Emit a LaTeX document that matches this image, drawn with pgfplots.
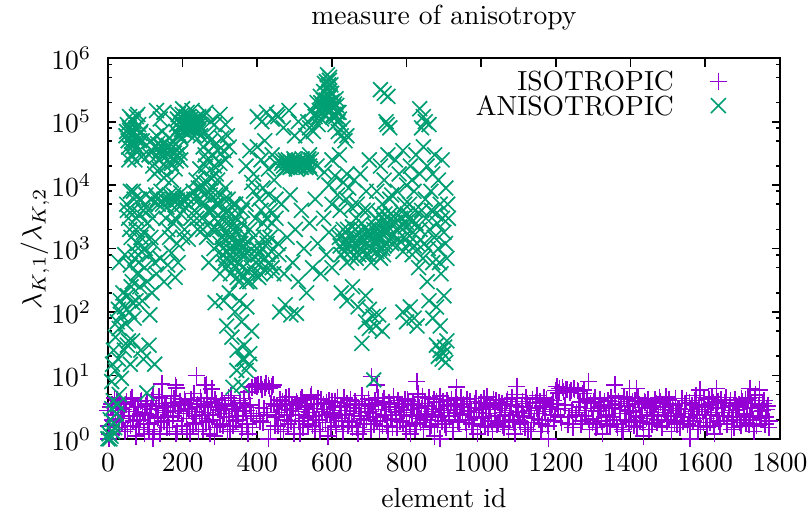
\documentclass[border=0pt]{standalone}
\usepackage{pgfplots}
\pgfplotsset{compat=1.18}
\definecolor{isoc}{RGB}{148,0,211}
\definecolor{anic}{RGB}{0,158,115}
\begin{document}
\begin{tikzpicture}
\begin{axis}[
 at={(0,0)}, anchor=south west,
 scale only axis, width=243.3pt, height=137.8pt,
 xmin=0, xmax=1800, ymode=log, ymin=1, ymax=1e6,
 xtick={0,200,...,1800},
 ytick={1,10,100,1000,10000,100000,1000000},
 minor ytick={2,5,8,20,50,80,200,500,800,2000,5000,8000,20000,50000,80000,200000,500000,800000},
 axis line style={line width=0.6pt},
 every tick/.style={line width=0.6pt, black},
 major tick length=3pt, minor tick length=1.5pt,
 tick align=inside,
 xticklabel style={yshift=-1.8pt,/pgf/number format/1000 sep={}},
 scaled x ticks=false,
 yticklabel style={xshift=-2.5pt},
 title={measure of anisotropy},
 title style={at={(axis description cs:0.5,1)},anchor=base,yshift=6.1pt},
 xlabel={element id},
 xlabel style={at={(axis description cs:0.5,0)},anchor=base,yshift=-25pt},
 ylabel={$\lambda_{K,1}/\lambda_{K,2}$},
 ylabel style={at={(axis description cs:-0.1085,0.5)},anchor=center},
 legend style={draw=none, fill=none, inner sep=0pt, at={(axis description cs:0.922,0.965)}, anchor=north east, /tikz/column sep=11pt, /tikz/row sep=1.9pt, nodes={inner ysep=0pt, text height=6.83pt, text depth=0pt}},
 legend plot pos=right, legend cell align=right,
]
\addplot[only marks, mark=+, mark size=3.1pt, color=isoc, line width=0.6pt] coordinates {
(0,2.8) (5,1.2) (10,3.5) (15,1.9) (20,2.4) (25,4.1) (30,1.5) (35,3.0) (40,2.1) (45,1.3)
(50,3.8) (55,2.3) (60,1.6) (65,4.5) (70,2.7) (75,1.1) (80,3.2) (85,2.0) (90,4.0) (95,1.7)
(100,2.5) (105,3.6) (110,1.4) (115,2.9) (120,5.0) (125,1.8) (130,3.3) (135,2.2) (140,1.2) (145,4.3)
(150,1.9) (155,3.1) (160,2.6) (165,1.5) (170,4.7) (175,2.3) (180,3.7) (185,1.3) (190,2.8) (195,3.4)
(200,1.6) (205,4.2) (210,2.1) (215,3.0) (220,1.2) (225,2.7) (230,5.2) (235,1.8) (240,3.5) (245,2.4)
(250,3.9) (255,1.4) (260,2.6) (265,4.4) (270,1.9) (275,3.2) (280,2.0) (285,1.1) (290,3.6) (295,2.9)
(300,1.7) (305,4.0) (310,2.5) (315,3.3) (320,1.3) (325,2.2) (330,4.8) (335,1.6) (340,3.0) (345,2.7)
(350,2.0) (355,3.7) (360,1.5) (365,4.3) (370,2.8) (375,1.2) (380,3.4) (385,6.5) (390,2.3) (395,7.0)
(400,6.8) (405,3.1) (410,7.2) (415,1.8) (420,6.4) (425,2.6) (430,7.0) (435,1.4) (440,6.6) (445,3.5)
(450,2.2) (455,1.6) (460,4.1) (465,2.9) (470,1.3) (475,3.6) (480,2.4) (485,4.6) (490,1.9) (495,3.0)
(500,1.5) (505,3.8) (510,2.7) (515,1.2) (520,4.4) (525,2.1) (530,3.3) (535,1.7) (540,2.6) (545,4.9)
(550,2.3) (555,1.4) (560,3.5) (565,2.0) (570,4.2) (575,1.8) (580,2.9) (585,3.7) (590,1.1) (595,2.5)
(600,3.9) (605,2.2) (610,1.6) (615,4.5) (620,2.8) (625,3.2) (630,1.3) (635,2.4) (640,3.6) (645,1.9)
(650,4.1) (655,1.5) (660,2.7) (665,3.4) (670,1.2) (675,2.1) (680,4.8) (685,1.7) (690,3.0) (695,2.6)
(700,3.3) (705,1.4) (710,2.5) (715,4.0) (720,1.9) (725,3.7) (730,2.2) (735,1.6) (740,4.3) (745,2.9)
(750,1.3) (755,3.5) (760,2.0) (765,4.6) (770,2.7) (775,1.5) (780,3.1) (785,2.4) (790,1.8) (795,4.2)
(800,2.6) (805,3.9) (810,1.2) (815,2.3) (820,3.4) (825,1.7) (830,5.1) (835,2.1) (840,3.0) (845,1.4)
(850,3.6) (855,2.5) (860,4.4) (865,1.6) (870,2.9) (875,1.1) (880,3.8) (885,2.2) (890,4.7) (895,1.9)
(900,2.8) (905,1.5) (910,3.3) (915,2.0) (920,4.1) (925,1.3) (930,2.6) (935,3.5) (940,1.8) (945,4.5)
(950,2.4) (955,3.1) (960,1.4) (965,2.7) (970,3.9) (975,1.7) (980,2.2) (985,4.3) (990,1.2) (995,3.0)
(1000,3.7) (1005,2.1) (1010,1.6) (1015,4.6) (1020,2.5) (1025,3.2) (1030,1.3) (1035,2.9) (1040,4.0) (1045,1.8)
(1050,2.3) (1055,3.6) (1060,1.5) (1065,2.8) (1070,4.2) (1075,1.9) (1080,3.4) (1085,2.0) (1090,1.2) (1095,5.0)
(1100,2.6) (1105,1.7) (1110,3.9) (1115,2.2) (1120,4.4) (1125,1.4) (1130,3.1) (1135,2.5) (1140,1.8) (1145,3.7)
(1150,4.8) (1155,2.0) (1160,1.3) (1165,3.3) (1170,2.7) (1175,4.1) (1180,1.6) (1185,2.4) (1190,3.5) (1195,1.9)
(1200,5.8) (1205,2.9) (1210,6.2) (1215,1.8) (1220,5.5) (1225,3.4) (1230,6.0) (1235,2.2) (1240,5.7) (1245,1.5)
(1250,6.1) (1255,2.6) (1260,5.6) (1265,3.8) (1270,1.9) (1275,5.9) (1280,2.3) (1285,4.3) (1290,1.4) (1295,3.0)
(1300,2.1) (1305,4.5) (1310,1.7) (1315,3.2) (1320,2.8) (1325,1.2) (1330,3.9) (1335,2.4) (1340,4.0) (1345,1.6)
(1350,3.4) (1355,2.0) (1360,4.7) (1365,1.5) (1370,2.9) (1375,3.6) (1380,1.3) (1385,2.5) (1390,4.2) (1395,1.8)
(1400,2.7) (1405,3.9) (1410,1.6) (1415,2.2) (1420,4.4) (1425,1.9) (1430,3.1) (1435,1.1) (1440,3.7) (1445,2.4)
(1450,1.4) (1455,3.3) (1460,2.6) (1465,4.1) (1470,1.8) (1475,2.3) (1480,3.8) (1485,1.5) (1490,2.9) (1495,4.6)
(1500,2.0) (1505,3.5) (1510,1.3) (1515,2.8) (1520,4.3) (1525,1.7) (1530,3.0) (1535,2.5) (1540,1.9) (1545,3.6)
(1550,4.0) (1555,2.2) (1560,1.6) (1565,3.4) (1570,2.7) (1575,4.8) (1580,1.4) (1585,2.1) (1590,3.2) (1595,1.8)
(1600,2.9) (1605,1.5) (1610,4.2) (1615,2.4) (1620,3.7) (1625,1.2) (1630,2.6) (1635,3.9) (1640,1.7) (1645,3.1)
(1650,2.3) (1655,4.5) (1660,1.9) (1665,3.3) (1670,1.4) (1675,2.8) (1680,4.1) (1685,2.0) (1690,3.5) (1695,1.6)
(1700,3.8) (1705,2.5) (1710,1.8) (1715,4.4) (1720,2.2) (1725,3.0) (1730,1.3) (1735,4.9) (1740,2.7) (1745,3.4)
(1750,2.1) (1755,3.6) (1760,1.7) (1765,2.9) (1770,1.5)
(2.5,1.6) (7.5,3.2) (12.5,2.0) (17.5,4.4) (22.5,1.3) (27.5,2.6) (32.5,3.8) (37.5,1.8) (42.5,2.9) (47.5,3.5)
(52.5,1.4) (57.5,2.7) (62.5,4.2) (67.5,1.9) (72.5,3.1) (77.5,2.3) (82.5,1.5) (87.5,3.9) (92.5,2.6) (97.5,1.2)
(102.5,3.4) (107.5,1.7) (112.5,2.4) (117.5,4.0) (122.5,1.3) (127.5,3.0) (132.5,2.1) (137.5,4.6) (142.5,1.8) (147.5,2.8)
(152.5,3.6) (157.5,1.5) (162.5,2.2) (167.5,3.3) (172.5,1.9) (177.5,4.3) (182.5,1.2) (187.5,2.7) (192.5,3.9) (197.5,1.6)
(202.5,2.5) (207.5,3.7) (212.5,1.4) (217.5,2.9) (222.5,4.1) (227.5,1.7) (232.5,2.3) (237.5,3.2) (242.5,1.3) (247.5,4.5)
(252.5,2.1) (257.5,3.4) (262.5,1.8) (267.5,2.6) (272.5,1.2) (277.5,3.8) (282.5,2.4) (287.5,4.2) (292.5,1.5) (297.5,3.1)
(302.5,2.8) (307.5,1.6) (312.5,3.5) (317.5,2.2) (322.5,4.4) (327.5,1.4) (332.5,2.9) (337.5,3.6) (342.5,1.9) (347.5,2.3)
(352.5,4.0) (357.5,1.3) (362.5,2.7) (367.5,3.2) (372.5,1.7) (377.5,5.5) (382.5,2.5) (387.5,1.5) (392.5,6.9) (397.5,2.1)
(402.5,7.3) (407.5,1.9) (412.5,6.0) (417.5,3.0) (422.5,7.5) (427.5,2.4) (432.5,6.2) (437.5,3.6) (442.5,7.1) (447.5,1.6)
(452.5,3.3) (457.5,2.6) (462.5,1.4) (467.5,3.9) (472.5,2.0) (477.5,4.5) (482.5,1.7) (487.5,2.8) (492.5,3.4) (497.5,1.2)
(502.5,2.4) (507.5,3.6) (512.5,1.9) (517.5,4.1) (522.5,1.5) (527.5,2.9) (532.5,3.2) (537.5,2.2) (542.5,4.6) (547.5,1.6)
(552.5,3.0) (557.5,2.0) (562.5,4.3) (567.5,1.3) (572.5,2.7) (577.5,3.5) (582.5,1.8) (587.5,2.4) (592.5,4.0) (597.5,1.5)
(602.5,2.6) (607.5,3.8) (612.5,1.4) (617.5,2.1) (622.5,3.3) (627.5,1.9) (632.5,4.4) (637.5,2.8) (642.5,1.6) (647.5,3.1)
(652.5,1.8) (657.5,2.5) (662.5,3.9) (667.5,1.5) (672.5,3.0) (677.5,2.3) (682.5,1.3) (687.5,3.6) (692.5,2.0) (697.5,4.2)
(702.5,2.7) (707.5,3.4) (712.5,1.7) (717.5,2.2) (722.5,4.5) (727.5,1.4) (732.5,2.9) (737.5,3.8) (742.5,2.4) (747.5,1.6)
(752.5,3.7) (757.5,2.1) (762.5,1.5) (767.5,3.2) (772.5,2.6) (777.5,4.0) (782.5,1.9) (787.5,3.5) (792.5,2.8) (797.5,1.3)
(802.5,4.1) (807.5,1.6) (812.5,2.9) (817.5,3.6) (822.5,1.4) (827.5,2.4) (832.5,3.1) (837.5,1.8) (842.5,4.6) (847.5,2.2)
(852.5,2.0) (857.5,3.3) (862.5,1.5) (867.5,2.7) (872.5,4.2) (877.5,2.4) (882.5,1.7) (887.5,3.0) (892.5,2.6) (897.5,3.9)
(902.5,1.7) (907.5,4.0) (912.5,2.3) (917.5,3.4) (922.5,1.5) (927.5,2.9) (932.5,4.4) (937.5,1.9) (942.5,2.5) (947.5,3.2)
(952.5,3.5) (957.5,1.8) (962.5,4.2) (967.5,2.0) (972.5,2.8) (977.5,1.4) (982.5,3.6) (987.5,2.6) (992.5,3.1) (997.5,1.6)
(1002.5,2.2) (1007.5,4.3) (1012.5,2.9) (1017.5,1.5) (1022.5,3.4) (1027.5,1.9) (1032.5,4.1) (1037.5,2.3) (1042.5,1.7) (1047.5,3.7)
(1052.5,3.0) (1057.5,1.6) (1062.5,2.6) (1067.5,3.9) (1072.5,1.4) (1077.5,2.4) (1082.5,4.5) (1087.5,1.8) (1092.5,3.3) (1097.5,2.7)
(1102.5,1.9) (1107.5,3.2) (1112.5,2.3) (1117.5,1.5) (1122.5,3.6) (1127.5,2.8) (1132.5,1.3) (1137.5,4.2) (1142.5,2.1) (1147.5,3.0)
(1152.5,2.5) (1157.5,3.8) (1162.5,1.7) (1167.5,4.4) (1172.5,2.0) (1177.5,1.6) (1182.5,3.1) (1187.5,2.9) (1192.5,4.0) (1197.5,2.4)
(1202.5,3.6) (1207.5,5.3) (1212.5,2.2) (1217.5,6.4) (1222.5,3.0) (1227.5,5.9) (1232.5,1.7) (1237.5,5.4) (1242.5,2.8) (1247.5,6.3)
(1252.5,2.4) (1257.5,5.8) (1262.5,3.2) (1267.5,1.7) (1272.5,5.2) (1277.5,2.8) (1282.5,4.1) (1287.5,2.0) (1292.5,3.6) (1297.5,1.8)
(1302.5,3.8) (1307.5,1.5) (1312.5,2.7) (1317.5,4.2) (1322.5,1.9) (1327.5,3.4) (1332.5,2.2) (1337.5,1.6) (1342.5,3.0) (1347.5,4.4)
(1352.5,2.2) (1357.5,3.1) (1362.5,1.7) (1367.5,3.9) (1372.5,2.5) (1377.5,1.4) (1382.5,4.6) (1387.5,2.0) (1392.5,3.3) (1397.5,2.8)
(1402.5,1.9) (1407.5,2.6) (1412.5,4.0) (1417.5,1.5) (1422.5,3.5) (1427.5,2.3) (1432.5,1.8) (1437.5,3.8) (1442.5,2.1) (1447.5,4.2)
(1452.5,3.0) (1457.5,1.7) (1462.5,2.4) (1467.5,3.6) (1472.5,2.0) (1477.5,4.4) (1482.5,1.6) (1487.5,3.2) (1492.5,2.6) (1497.5,1.9)
(1502.5,4.1) (1507.5,2.3) (1512.5,3.4) (1517.5,1.8) (1522.5,2.5) (1527.5,3.0) (1532.5,1.5) (1537.5,4.3) (1542.5,2.2) (1547.5,2.9)
(1552.5,1.7) (1557.5,3.7) (1562.5,2.9) (1567.5,1.9) (1572.5,4.0) (1577.5,2.4) (1582.5,3.3) (1587.5,1.6) (1592.5,2.7) (1597.5,4.5)
(1602.5,2.1) (1607.5,3.4) (1612.5,1.8) (1617.5,4.6) (1622.5,1.6) (1627.5,3.0) (1632.5,2.3) (1637.5,1.9) (1642.5,4.1) (1647.5,2.6)
(1652.5,3.7) (1657.5,1.7) (1662.5,2.6) (1667.5,4.0) (1672.5,2.2) (1677.5,1.5) (1682.5,3.3) (1687.5,2.9) (1692.5,1.8) (1697.5,4.3)
(1702.5,2.4) (1707.5,4.1) (1712.5,3.1) (1717.5,1.7) (1722.5,3.6) (1727.5,2.0) (1732.5,4.5) (1737.5,1.6) (1742.5,3.2) (1747.5,2.3)
(1752.5,2.8) (1757.5,4.0) (1762.5,2.2) (1767.5,3.3) (1772.5,1.9)
(2,1.0) (144,7.4) (181,7.0) (184,6.4) (237,10.0) (264,7.1) (260,7.0) (278,6.1) (706,9.6) (720,7.1)
(827,8.0) (934,6.5) (1095,6.7) (1202,6.7) (1287,8.0) (1358,7.1) (1397,6.2) (1416,6.2) (1586,5.9) (1630,6.2)
(1720,6.2) (1745,5.9) (120,1.0) (430,1.0) (890,1.0) (1180,1.0) (1560,1.0)
};
\addlegendentry{ISOTROPIC}
\addplot[only marks, mark=x, mark size=3.8pt, color=anic, line width=0.6pt] coordinates {
(0,1.0) (3,1.2) (5,1.0) (6,2.0) (8,1.1) (10,3.0) (10,8) (12,1.3) (14,4.0) (15,1.8) (18,1.5) (20,12)
(22,2.5) (26,3.5) (28,18) (30,5.0) (36,9) (44,25) (52,30) (60,15) (66,35)
(12,15) (15,25) (20,40) (25,70) (28,110) (30,55) (33,150) (36,90) (40,200) (44,120) (48,65) (52,180)
(55,35) (58,100) (62,250) (66,140) (70,80) (30,600) (45,800) (60,550) (72,900)
(48,6e4) (52,9e4) (55,4e4) (58,1.2e5) (60,7e4) (63,3e4) (65,5e4) (68,1.0e5) (70,4.5e4) (72,2.5e4)
(75,8e4) (78,6e4) (80,1.3e5) (83,3.5e4) (85,5e4) (88,7e4) (90,2.8e4)
(50,7e4) (54,5e4) (57,8e4) (62,6e4) (66,4e4) (69,7e4) (73,5.5e4) (77,4e4) (82,9e4) (86,6.5e4) (92,5e4)
(56,2.5e4) (64,1.1e5) (76,1.2e5)
(50,5e3) (55,3e3) (60,8e3) (65,4e3) (70,6e3) (75,2e3) (80,1.2e3) (85,3.5e3) (90,900) (95,1.8e3)
(100,5e3) (105,2.5e3) (110,800) (115,1.5e3) (120,3e3) (78,400) (85,250) (92,150) (98,500) (105,300)
(112,90) (118,200) (125,600) (88,25) (95,18) (110,30) (125,15) (104,5.3)
(52,4e3) (58,2e3) (68,8e3) (76,3e3) (84,6e3) (94,4e3) (102,7e3) (108,4e3) (116,6e3) (62,1.5e3)
(72,700) (88,1.5e3) (100,1e3) (122,1.2e3) (65,300) (75,150) (82,600)
(130,1.5e5) (140,1.1e5) (150,1.4e5)
(110,3e4) (115,5e4) (120,2e4) (125,4e4) (130,6e4) (135,2.5e4) (140,3.5e4) (145,7e4) (150,4.5e4)
(155,2e4) (160,3e4) (165,5.5e4) (170,2.2e4) (175,4e4) (180,1.8e4) (185,3e4) (190,6e4) (195,2.5e4)
(125,1.5e4) (150,1.3e4) (170,1.2e4) (142,4.2e4) (158,3.8e4) (178,3.2e4)
(118,3.5e4) (128,2.8e4) (133,4.5e4) (138,1.8e4) (147,2.8e4) (153,3.5e4) (162,4.2e4) (168,2.8e4)
(173,5e4) (183,2.4e4) (188,4e4) (193,3.2e4)
(128,7e3) (135,5e3) (142,8e3) (150,6e3) (158,4.5e3) (165,7e3) (172,6e3) (178,5.5e3) (183,6.5e3)
(188,5e3) (195,7.5e3) (200,6e3) (205,5.5e3) (210,6.5e3) (215,5e3)
(132,6e3) (146,5e3) (162,5.5e3) (176,7e3) (186,5.8e3) (198,5e3) (160,2e3) (180,3e3) (200,1.5e3)
(155,3e3) (165,1.5e3) (175,2.5e3) (185,1.2e3) (195,3.5e3) (205,2e3) (215,1.4e3) (222,3e3)
(130,400) (140,700) (150,300) (160,550) (170,850) (180,350) (188,600)
(182,7e4) (186,1.1e5) (190,8e4) (193,6e4) (196,9e4) (199,1.3e5) (202,8.5e4) (205,7e4) (208,1.0e5)
(211,9e4) (214,6.5e4) (217,1.2e5) (220,8e4) (223,9.5e4) (226,7.5e4) (229,1.05e5) (232,6e4) (235,8.5e4)
(238,1.15e5) (241,7e4) (244,9e4) (248,6e4) (200,1.6e5) (225,1.5e5)
(184,9e4) (188,1.3e5) (192,1e5) (197,7.5e4) (201,1.1e5) (206,9e4) (210,1.2e5) (213,8e4) (216,9.5e4)
(219,7e4) (222,1.1e5) (227,9e4) (231,8e4) (234,1.0e5) (237,7.5e4) (240,9.5e4) (243,1.2e5) (246,8e4)
(212,1.4e5) (195,5.5e4)
(255,1.2e5) (275,1.0e5) (300,1.3e5) (315,9e4) (255,4e4) (265,2.5e4) (275,5e4) (285,2e4) (295,3.5e4)
(305,5.5e4) (315,2.5e4) (325,4e4)
(260,3e4) (270,6e4) (280,3e4) (290,4.5e4) (300,2.2e4) (310,3.5e4) (320,6e4) (262,1.4e5) (285,9e4)
(228,8e3) (232,4e3) (236,1.2e4) (240,2e3) (244,6e3) (248,9e3) (252,3e3) (256,1.1e4) (260,5e3)
(264,1.5e3) (268,8e3) (272,2.5e3) (276,1.3e4) (280,4e3) (284,1e3) (288,7e3) (292,2e3) (296,5e3)
(300,1.2e3) (304,3e3) (308,800) (312,6e3) (316,1.8e3) (320,4e3) (324,1e3) (328,2.5e3) (332,700)
(336,5e3) (340,1.5e3) (344,3e3) (348,600) (352,2e3) (356,1.2e3) (360,4e3) (364,800) (246,1.8e4)
(262,2e4) (290,1.5e4) (270,600) (300,400) (315,500) (287,140)
(230,6e3) (238,3e3) (242,9e3) (250,5e3) (254,2e3) (258,7e3) (266,1.1e4) (270,4e3) (274,7e3)
(278,2e3) (282,9e3) (286,3e3) (290,5e3) (294,1.2e4) (298,2.5e3) (302,7e3) (306,1.5e3) (310,4e3)
(314,9e3) (318,2.5e3) (322,6e3) (326,1.5e3) (330,3.5e3) (334,1.1e3) (338,2.5e3) (342,5e3) (346,1.2e3)
(350,3.5e3) (354,900) (358,2.5e3) (362,1.5e3)
(310,150) (318,60) (325,200) (332,40) (340,100) (346,25) (352,150) (358,70) (365,30) (372,120)
(378,15) (385,50) (360,18) (370,12) (380,22) (335,6.5) (358,7) (345,12) (365,18)
(305,1.5e3) (312,600) (320,900) (328,400) (335,2e3) (342,500) (350,300) (356,800) (362,350)
(368,1.2e3) (374,450) (380,300) (386,700) (392,400) (398,1e3) (404,350) (410,600) (416,2.5e3)
(422,450) (428,800) (434,1.5e3) (440,500)
(308,1e3) (316,700) (324,1.5e3) (332,600) (338,900) (346,350) (352,1.2e3) (360,500) (366,800)
(372,300) (378,900) (384,500) (390,1.5e3) (396,600) (402,800) (408,400) (414,1e3) (420,700)
(426,1.2e3) (432,600) (438,900) (444,400)
(370,2e4) (380,3.5e4) (390,1.5e4) (400,4e4) (410,2.5e4) (420,5e4) (430,1.8e4) (440,3e4) (450,2.2e4)
(400,1.2e5) (412,1.0e5) (425,1.4e5) (440,1.1e5) (452,1.3e5)
(370,5e3) (380,2e3) (390,8e3) (400,1e3) (410,4e3) (420,1.5e3) (430,7e3) (440,2.5e3) (450,6e3) (455,1.2e3)
(385,1.1e4) (405,6e3) (425,3e3) (445,1.2e4) (395,3e3) (415,9e3) (435,4e3)
(455,1.2e5) (470,8e4) (485,1.5e5) (500,6e4) (510,1e5)
(465,2.2e4) (470,2e4) (475,2.5e4) (480,1.9e4) (485,2.1e4) (490,2.3e4) (495,2e4) (500,2.4e4)
(505,1.8e4) (510,2.2e4) (515,2e4) (520,2.6e4) (525,2.1e4) (530,1.9e4) (535,2.3e4) (540,2e4) (545,2.5e4)
(468,2.4e4) (473,1.8e4) (478,2.2e4) (483,2.5e4) (488,1.9e4) (493,2.2e4) (498,2.6e4) (503,2.1e4)
(508,2e4) (513,2.4e4) (518,1.9e4) (523,2.3e4) (528,2.2e4) (533,2e4) (538,2.6e4) (543,1.8e4)
(450,3e3) (458,800) (465,5e3) (472,400) (480,1.5e3) (488,7e3) (495,600) (502,2e3) (510,300)
(518,4e3) (525,1e3) (532,200) (540,2.5e3) (548,500) (555,6e3) (562,1.2e3) (570,400) (578,3e3)
(585,800) (592,1.8e3) (600,500) (460,100) (475,130) (490,90) (505,95)
(530,6e4) (535,1e5) (540,8e4) (545,1.5e5) (550,7e4) (555,1.2e5) (560,2e5) (563,9e4) (566,1.5e5)
(569,2.5e5) (572,1.1e5) (575,1.8e5) (578,3e5) (581,1.3e5) (584,2.2e5) (587,3.5e5) (590,1.6e5)
(593,4.5e5) (596,2e5) (599,2.8e5) (602,1.2e5) (605,1.7e5) (608,9e4) (611,2.3e5) (614,1.4e5)
(617,7e4) (620,1.1e5) (625,6e4) (630,8e4) (635,5e4) (640,6e4) (588,5.5e5) (580,4e5) (597,3.8e5)
(565,1.2e5) (570,2e5) (574,1.4e5) (577,2.2e5) (583,1.6e5) (586,2.7e5) (589,2e5) (592,3e5) (595,2.5e5)
(598,1.5e5) (601,2.1e5) (604,1.3e5) (607,1.9e5) (610,1.2e5) (613,1.8e5) (616,1e5) (619,1.4e5)
(585,4.3e5) (591,3.8e5) (594,5e5)
(540,3e4) (560,2e4) (580,1.6e4) (600,2.5e4) (620,3e4) (640,1.5e4)
(592,1e4) (600,5e3) (608,1.4e4) (615,7e3) (622,4e3) (630,1.1e4) (638,6e3) (645,9e3) (652,4.5e3) (660,1.2e4)
(668,5e3) (676,1.5e4) (684,4e3) (692,8e3) (700,2.5e4) (665,3e3) (695,4e3)
(620,1.5e3) (625,800) (630,2e3) (635,1.1e3) (640,600) (645,1.6e3) (650,900) (655,2.2e3) (660,1.2e3)
(665,700) (670,1.8e3) (675,1e3) (680,2.5e3) (685,1.3e3) (690,800) (695,1.9e3) (700,1.1e3) (705,600)
(710,1.5e3) (715,2.3e3) (720,900) (725,1.4e3) (730,700) (735,2e3) (740,1.1e3)
(622,1.1e3) (628,1.6e3) (632,900) (638,1.3e3) (642,2e3) (648,1.2e3) (652,700) (658,1.5e3) (662,2e3)
(668,1.1e3) (672,800) (678,1.4e3) (682,1.9e3) (688,1.1e3) (692,1.5e3) (698,800) (702,1.6e3)
(708,1e3) (712,2e3) (718,1.2e3) (722,1.7e3) (728,1e3) (732,1.5e3) (738,800) (742,1.8e3)
(625,200) (640,150) (655,250) (670,120) (690,180) (700,110) (680,32)
(690,70) (700,55) (710,85) (718,60) (725,90) (735,50) (712,8.5)
(730,3.2e5) (740,2.8e5) (750,2.5e5) (745,1e5) (755,8e4) (748,9e4)
(720,8e3) (730,2e4) (740,1.2e4) (750,3e4) (760,7e3) (770,2.5e4) (780,1.5e4) (790,3.5e4) (800,1e4)
(810,2e4) (820,8e3)
(718,3e3) (724,1.5e3) (730,2.5e3) (736,1e3) (742,3.5e3) (748,1.8e3) (754,2.8e3) (760,1.2e3)
(766,3.2e3) (772,2e3) (778,1.4e3) (784,3e3) (790,900) (796,2.2e3) (802,3.5e3) (808,1.6e3) (814,2.6e3) (820,1.1e3)
(722,2e3) (727,3.5e3) (733,1.8e3) (739,2.8e3) (745,1.2e3) (751,2.2e3) (757,3.5e3) (763,1.6e3)
(769,2.6e3) (775,1.1e3) (781,2.2e3) (787,3.8e3) (793,1.5e3) (799,2.6e3) (805,1.2e3) (811,3e3)
(817,1.8e3) (823,4e3) (735,5e3) (755,6e3) (775,8e3) (795,5e3) (815,1.2e4)
(835,1.6e5) (845,1.2e5) (850,1e5) (860,9e4) (840,8e4)
(825,3e4) (835,1.5e4) (845,4e4) (855,2e4) (865,8e3) (875,3e4) (885,1.2e4) (895,2.5e4) (905,9e3)
(808,5e3) (815,800) (825,2.5e3) (832,500) (840,4e3) (848,1.2e3) (855,300) (862,2e3) (870,600)
(878,3.5e3) (885,1e3) (892,400) (900,1.8e3) (908,700) (912,3e3)
(828,1.2e3) (836,2e3) (844,700) (852,3e3) (858,1e3) (866,4e3) (874,1.5e3) (882,2.5e3) (888,600)
(896,3e3) (904,1.2e3) (910,5e3) (850,6e3) (870,1.5e4) (890,5e3)
(860,150) (870,80) (880,120) (890,60) (900,180)
(880,30) (885,20) (890,25) (895,18) (898,22) (902,28) (905,16) (908,35)
(790,100) (800,70) (810,120) (820,80) (828,60)
};
\addlegendentry{ANISOTROPIC}
\end{axis}
\pgfresetboundingbox
\path (-39.1pt,-27.6pt) rectangle (254.2pt,158.9pt);
\end{tikzpicture}
\end{document}
